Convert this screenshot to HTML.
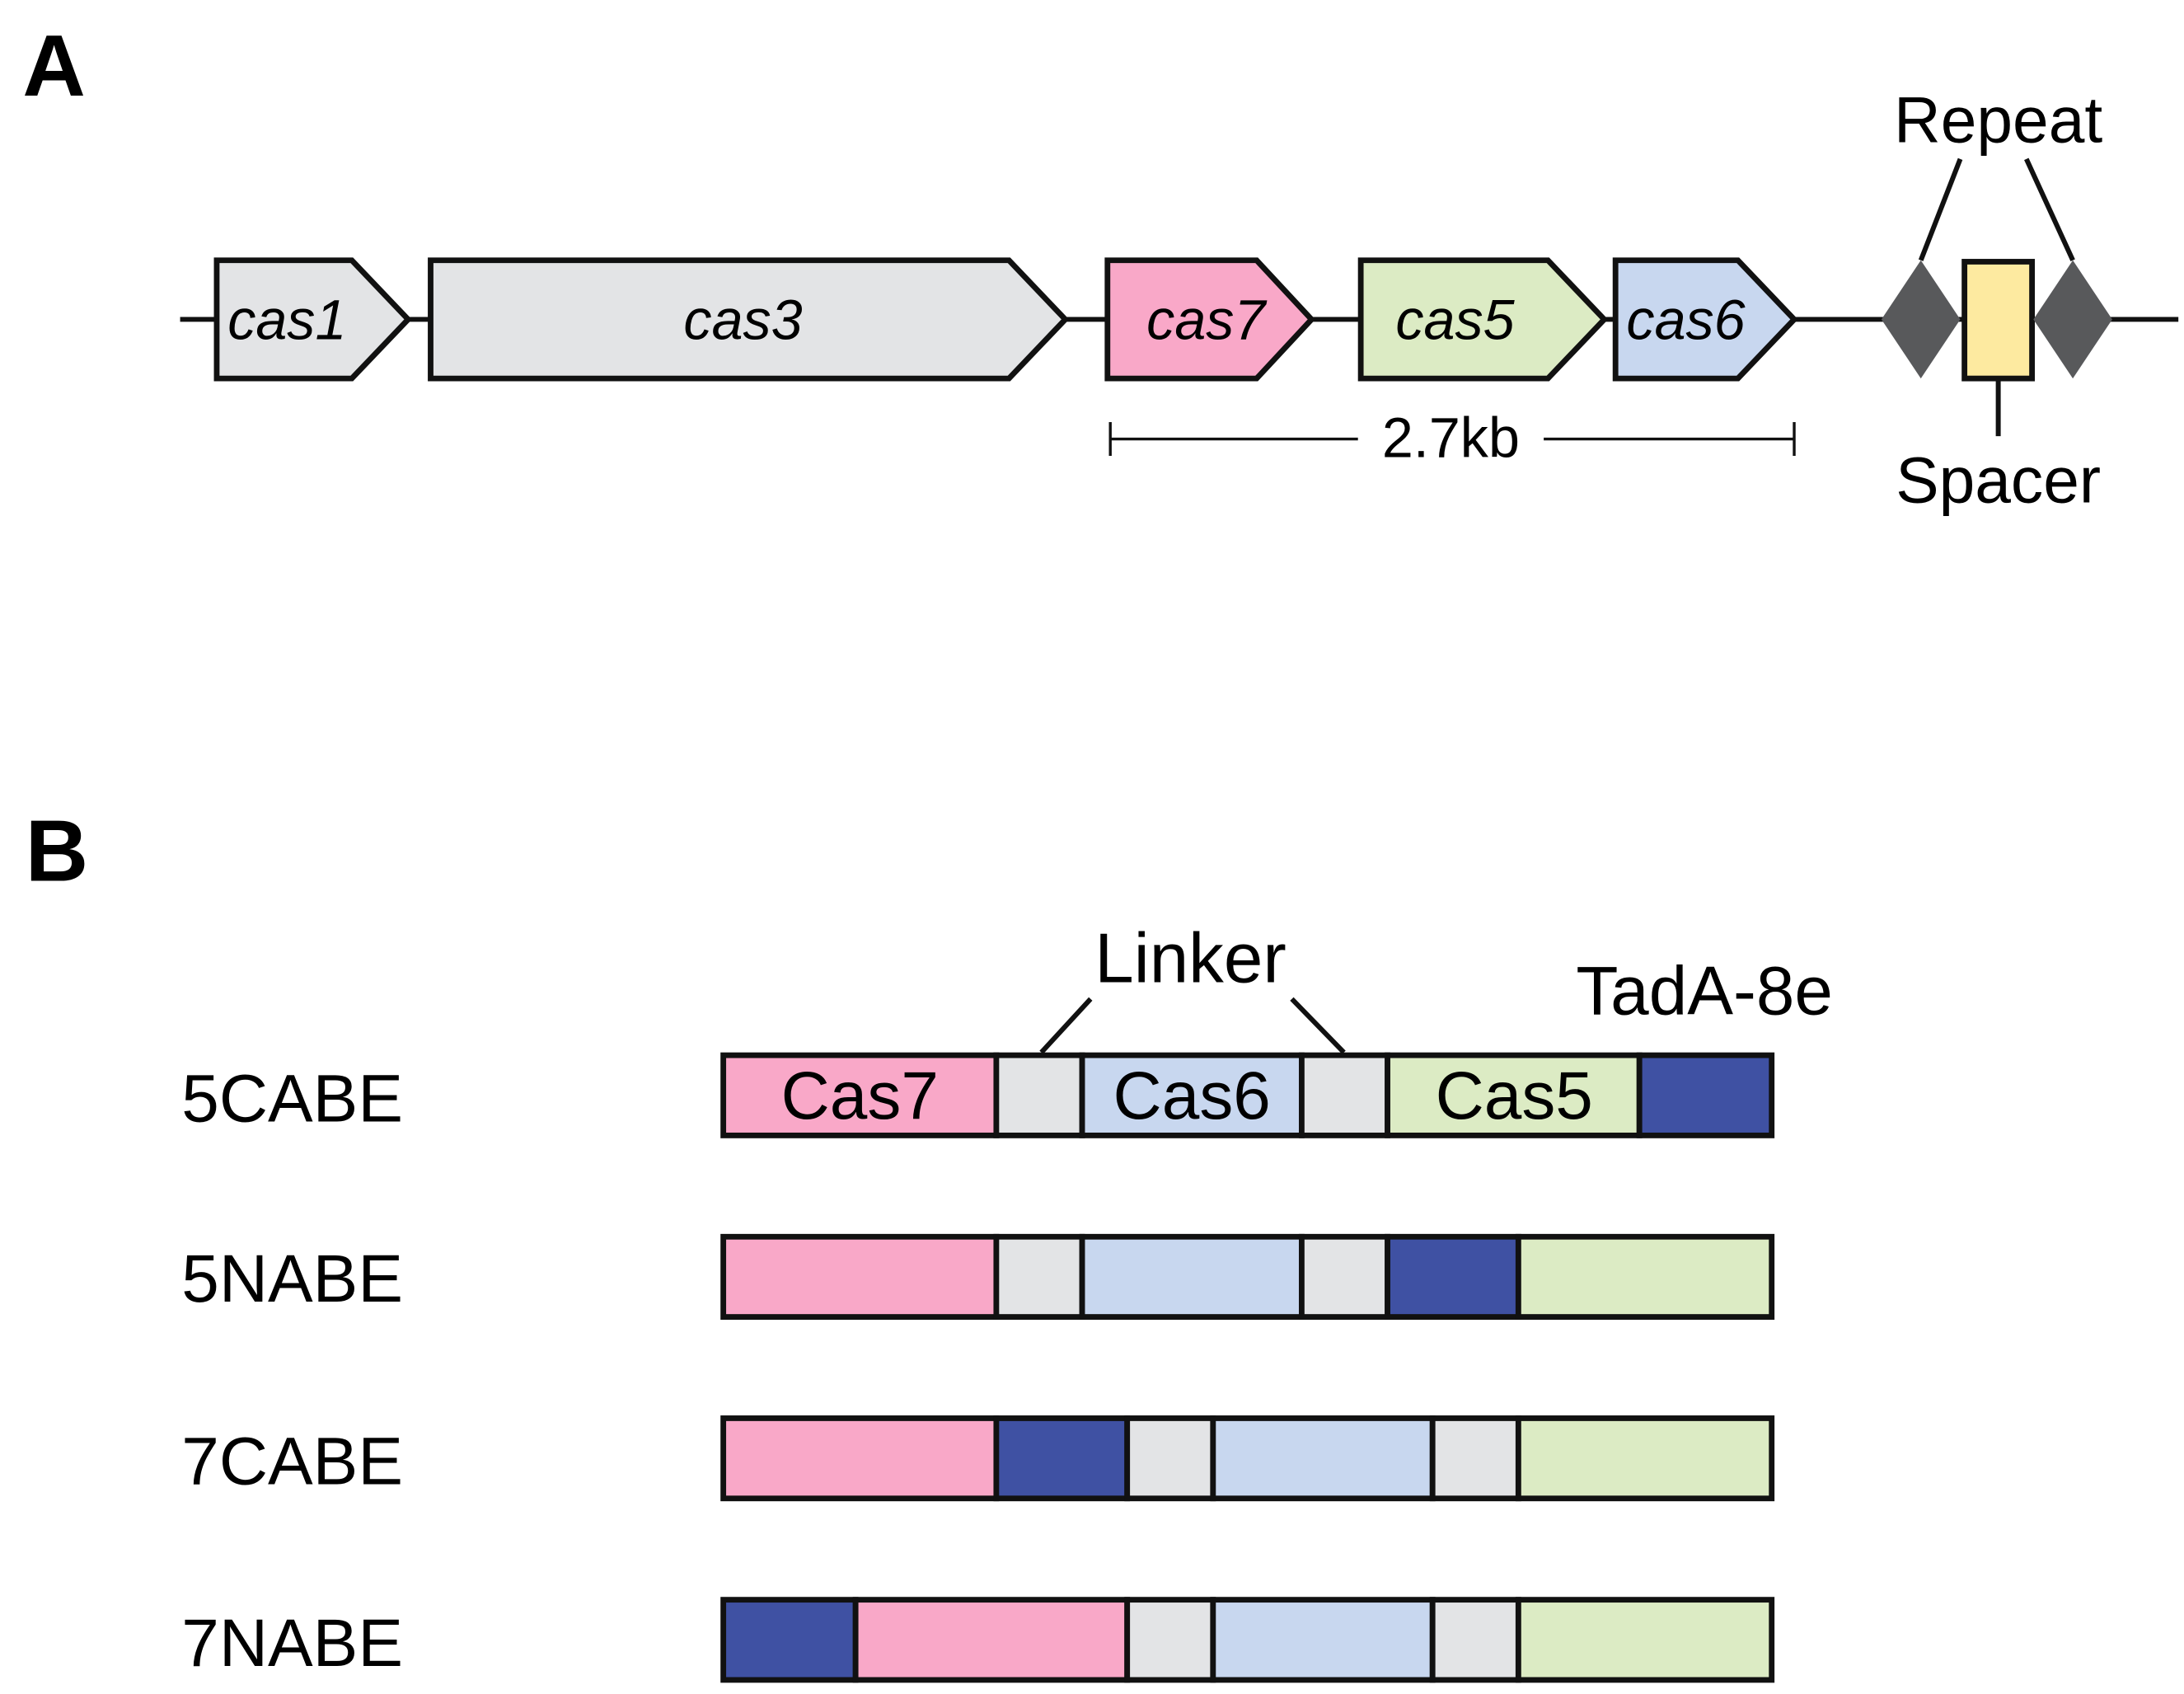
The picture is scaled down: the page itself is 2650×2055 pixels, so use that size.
<!DOCTYPE html>
<html><head><meta charset="utf-8"><style>
html,body{margin:0;padding:0;background:#fff;}
svg{display:block;}
text{font-family:"Liberation Sans",Arial,sans-serif;}
</style></head><body>
<svg width="2650" height="2055" viewBox="0 0 1552 1204" preserveAspectRatio="none" xmlns="http://www.w3.org/2000/svg">
<rect width="1552" height="1204" fill="#fff"/>
<text x="16" y="68" font-size="62" font-weight="bold">A</text>
<text x="18" y="626" font-size="62" font-weight="bold">B</text>
<g stroke="#111" stroke-width="4">
<line x1="128" y1="227" x2="1548" y2="227" stroke-width="3.5"/>
<polygon points="154,185 250,185 290,227 250,269 154,269" fill="#e3e4e6"/>
<polygon points="306,185 717,185 757,227 717,269 306,269" fill="#e3e4e6"/>
<polygon points="787,185 893,185 932,227 893,269 787,269" fill="#f9a8c8"/>
<polygon points="967,185 1100,185 1140,227 1100,269 967,269" fill="#dcebc4"/>
<polygon points="1148,185 1235,185 1275,227 1235,269 1148,269" fill="#c8d7ef"/>
<line x1="1365" y1="185" x2="1393" y2="113" stroke-width="3.5"/>
<line x1="1473" y1="185" x2="1440" y2="113" stroke-width="3.5"/>
<line x1="1420" y1="269" x2="1420" y2="310" stroke-width="3.5"/>
<rect x="1396" y="186" width="48" height="83" fill="#fdeaa0"/>
</g>
<polygon points="1365,185 1393,227 1365,269 1337,227" fill="#58595b"/>
<polygon points="1473,185 1501,227 1473,269 1445,227" fill="#58595b"/>
<g font-size="40" font-style="italic" text-anchor="middle">
<text x="204" y="241">cas1</text>
<text x="528" y="241">cas3</text>
<text x="857" y="241">cas7</text>
<text x="1034" y="241">cas5</text>
<text x="1198" y="241">cas6</text>
</g>
<text x="1420" y="101" font-size="46" text-anchor="middle">Repeat</text>
<text x="1420" y="357" font-size="46" text-anchor="middle">Spacer</text>
<g stroke="#111" stroke-width="2">
<line x1="789" y1="312" x2="965" y2="312"/>
<line x1="1097" y1="312" x2="1275" y2="312"/>
<line x1="789" y1="300" x2="789" y2="324"/>
<line x1="1275" y1="300" x2="1275" y2="324"/>
</g>
<text x="1031" y="325" font-size="40" text-anchor="middle">2.7kb</text>

<g font-size="48">
<text x="129" y="797">5CABE</text>
<text x="129" y="925">5NABE</text>
<text x="129" y="1055">7CABE</text>
<text x="129" y="1184">7NABE</text>
<text x="846" y="698" font-size="50" text-anchor="middle">Linker</text>
<text x="1120" y="721" font-size="49">TadA-8e</text>
</g>
<g stroke="#111" stroke-width="3.5">
<line x1="740" y1="748" x2="775" y2="710"/>
<line x1="955" y1="748" x2="918" y2="710"/>
</g>
<g stroke="#111" stroke-width="4">
<rect x="514" y="750" width="194" height="57" fill="#f9a8c8"/>
<rect x="708" y="750" width="61" height="57" fill="#e3e4e6"/>
<rect x="769" y="750" width="156" height="57" fill="#c8d7ef"/>
<rect x="925" y="750" width="61" height="57" fill="#e3e4e6"/>
<rect x="986" y="750" width="179" height="57" fill="#dcebc4"/>
<rect x="1165" y="750" width="94" height="57" fill="#3f51a3"/>
<rect x="514" y="879" width="194" height="57" fill="#f9a8c8"/>
<rect x="708" y="879" width="61" height="57" fill="#e3e4e6"/>
<rect x="769" y="879" width="156" height="57" fill="#c8d7ef"/>
<rect x="925" y="879" width="61" height="57" fill="#e3e4e6"/>
<rect x="986" y="879" width="93" height="57" fill="#3f51a3"/>
<rect x="1079" y="879" width="180" height="57" fill="#dcebc4"/>
<rect x="514" y="1008" width="194" height="57" fill="#f9a8c8"/>
<rect x="708" y="1008" width="93" height="57" fill="#3f51a3"/>
<rect x="801" y="1008" width="61" height="57" fill="#e3e4e6"/>
<rect x="862" y="1008" width="156" height="57" fill="#c8d7ef"/>
<rect x="1018" y="1008" width="61" height="57" fill="#e3e4e6"/>
<rect x="1079" y="1008" width="180" height="57" fill="#dcebc4"/>
<rect x="514" y="1137" width="94" height="57" fill="#3f51a3"/>
<rect x="608" y="1137" width="193" height="57" fill="#f9a8c8"/>
<rect x="801" y="1137" width="61" height="57" fill="#e3e4e6"/>
<rect x="862" y="1137" width="156" height="57" fill="#c8d7ef"/>
<rect x="1018" y="1137" width="61" height="57" fill="#e3e4e6"/>
<rect x="1079" y="1137" width="180" height="57" fill="#dcebc4"/>
</g>
<g font-size="48" text-anchor="middle">
<text x="611" y="795">Cas7</text>
<text x="847" y="795">Cas6</text>
<text x="1076" y="795">Cas5</text>
</g>
</svg>
</body></html>
